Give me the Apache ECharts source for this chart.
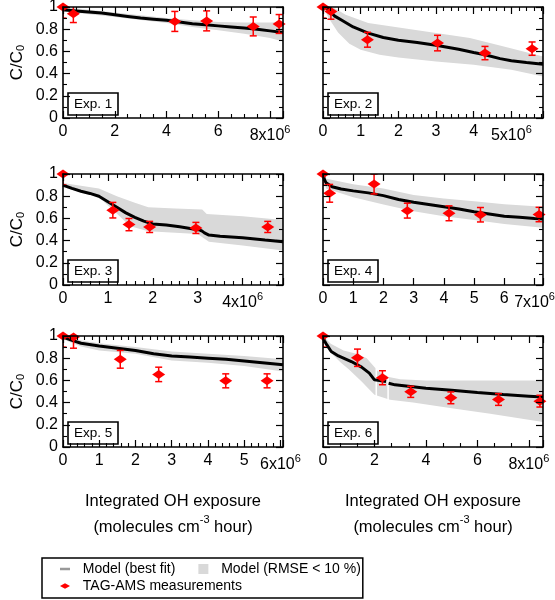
<!DOCTYPE html>
<html><head><meta charset="utf-8">
<script src="https://cdn.jsdelivr.net/npm/echarts@6/dist/echarts.min.js"></script>
<style>html,body{margin:0;padding:0;background:#fff}#c{width:555px;height:600px}</style>
</head><body><div id="c"></div>
<script>
const FONT = 'Liberation Sans, Arial, sans-serif';

// ---------- data (x in units of 10^6 molecules cm^-3 hour, y = C/C0) ----------
const expNames = ['Exp. 1', 'Exp. 2', 'Exp. 3', 'Exp. 4', 'Exp. 5', 'Exp. 6'];
const xTickValues = [[0,2,4,6,8],[0,1,2,3,4,5],[0,1,2,3,4],[0,1,2,3,4,5,6,7],[0,1,2,3,4,5,6],[0,2,4,6,8]];
const xExponent = '6';
const yTickLabels = ['0','0.2','0.4','0.6','0.8','1'];

const exp1Model = [[0,0.975],[0.5,0.965],[1,0.955],[1.5,0.945],[2,0.93],[2.5,0.915],[3,0.9],[3.5,0.89],[4,0.88],[4.5,0.865],[5,0.85],[5.5,0.84],[6,0.83],[6.5,0.82],[7,0.81],[7.5,0.8],[8,0.785],[8.5,0.77]];
const exp1Upper = [[0,1.0],[2,0.95],[4,0.9],[5,0.88],[6,0.865],[7,0.86],[8,0.86],[8.5,0.865]];
const exp1Lower = [[0,0.96],[2,0.91],[4,0.855],[5,0.82],[6,0.79],[7,0.76],[8,0.72],[8.5,0.69]];
const exp1Meas = [[0,1.0,0.1],[0.4,0.94,0.08],[4.32,0.87,0.09],[5.55,0.875,0.09],[7.35,0.825,0.085],[8.35,0.847,0.085]];

const exp2Model = [[0,1.0],[0.1,0.99],[0.2,0.96],[0.3,0.92],[0.5,0.88],[0.8,0.82],[1.2,0.765],[1.6,0.725],[2.0,0.70],[2.5,0.68],[3.0,0.655],[3.6,0.62],[4.0,0.59],[4.3,0.57],[4.7,0.535],[5.0,0.515],[5.4,0.5],[5.84,0.485]];
const exp2Upper = [[0,1.0],[0.3,0.99],[0.6,0.93],[1.2,0.856],[2.1,0.81],[3.0,0.765],[3.9,0.72],[4.8,0.645],[5.84,0.555]];
const exp2Lower = [[0,1.0],[0.15,0.9],[0.4,0.77],[0.7,0.67],[1.0,0.615],[1.5,0.57],[2.0,0.545],[3.0,0.51],[4.0,0.48],[5.0,0.435],[5.84,0.375]];
const exp2Meas = [[0,1.0,0.1],[0.21,0.96,0.07],[1.18,0.705,0.067],[3.04,0.675,0.07],[4.3,0.585,0.06],[5.55,0.625,0.06]];

const exp3Model = [[0,0.9],[0.2,0.87],[0.4,0.845],[0.6,0.825],[0.8,0.80],[1.0,0.75],[1.2,0.70],[1.4,0.65],[1.6,0.61],[1.8,0.575],[2.0,0.55],[2.3,0.54],[2.6,0.525],[2.9,0.505],[3.05,0.495],[3.1,0.485],[3.15,0.47],[3.25,0.45],[3.5,0.44],[4.0,0.425],[4.5,0.405],[4.9,0.39]];
const exp3Upper = [[0,0.92],[0.8,0.87],[1.2,0.80],[1.6,0.74],[1.9,0.70],[2.5,0.69],[3.1,0.68],[3.2,0.64],[4.0,0.62],[4.9,0.585]];
const exp3Lower = [[0,0.88],[0.8,0.79],[1.1,0.68],[1.5,0.53],[1.9,0.485],[3.0,0.46],[3.25,0.39],[4.0,0.355],[4.9,0.31]];
const exp3Meas = [[0,1.0,0.1],[1.11,0.674,0.07],[1.47,0.544,0.055],[1.93,0.523,0.05],[2.96,0.514,0.05],[4.56,0.523,0.05]];

const exp4Model = [[0,1.0],[0.05,0.95],[0.1,0.92],[0.3,0.885],[0.6,0.865],[1.0,0.848],[1.5,0.83],[2.0,0.805],[2.5,0.77],[3.0,0.745],[3.5,0.725],[4.0,0.705],[4.5,0.685],[5.0,0.66],[5.5,0.64],[6.0,0.62],[6.5,0.61],[7.0,0.6],[7.28,0.595]];
const exp4Upper = [[0,1.0],[0.08,0.96],[1,0.907],[2,0.87],[3,0.81],[4,0.78],[5,0.755],[6,0.727],[7.28,0.705]];
const exp4Lower = [[0,1.0],[0.1,0.87],[1,0.79],[2,0.725],[3,0.665],[4,0.62],[5,0.585],[6,0.55],[7.28,0.515]];
const exp4Meas = [[0,1.0,0.1],[0.22,0.826,0.08],[1.69,0.91,0.09],[2.79,0.67,0.067],[4.17,0.646,0.067],[5.21,0.633,0.065],[7.15,0.635,0.065]];

const exp5Model = [[0,0.99],[0.25,0.96],[0.5,0.935],[1.0,0.91],[1.5,0.89],[2.0,0.87],[2.5,0.84],[3.0,0.82],[3.5,0.81],[4.0,0.80],[4.5,0.79],[5.0,0.775],[5.5,0.76],[6.07,0.74]];
const exp5Upper = [[0,1.0],[0.5,0.96],[1,0.935],[2,0.9],[3,0.86],[4,0.84],[5,0.82],[6.07,0.79]];
const exp5Lower = [[0,0.97],[0.5,0.905],[1,0.87],[2,0.84],[3,0.78],[4,0.76],[5,0.73],[6.07,0.68]];
const exp5Meas = [[0,1.0,0.1],[0.29,0.99,0.1],[1.58,0.79,0.08],[2.64,0.654,0.065],[4.49,0.596,0.063],[5.63,0.596,0.063]];

const exp6Model = [[0,1.0],[0.05,0.96],[0.15,0.92],[0.32,0.86],[0.6,0.82],[1.1,0.77],[1.5,0.72],[1.8,0.665],[2.0,0.605],[2.2,0.6],[2.45,0.59],[2.5,null],[2.55,0.575],[2.8,0.56],[3.4,0.545],[4.0,0.53],[5.0,0.512],[6.0,0.49],[7.0,0.472],[8.0,0.458],[8.55,0.45]];
const exp6Upper = [[0,1.0],[0.3,0.93],[0.8,0.87],[1.3,0.84],[1.7,0.8],[2.04,0.71],[2.07,null],[2.1,0.69],[2.5,0.64],[2.53,null],[2.56,0.63],[3.0,0.61],[4.0,0.6],[6.0,0.6],[8.55,0.6]];
const exp6Lower = [[0,1.0],[0.1,0.93],[0.3,0.85],[0.7,0.76],[1.0,0.70],[1.5,0.59],[2.0,0.47],[2.6,0.425],[3.5,0.4],[5,0.35],[6.5,0.3],[8.55,0.225]];
const exp6Meas = [[0,1.0,0.1],[1.34,0.804,0.078],[2.31,0.624,0.063],[3.41,0.497,0.05],[4.97,0.443,0.053],[6.82,0.428,0.053],[8.43,0.413,0.053]];

const models = [exp1Model, exp2Model, exp3Model, exp4Model, exp5Model, exp6Model];
const uppers = [exp1Upper, exp2Upper, exp3Upper, exp4Upper, exp5Upper, exp6Upper];
const lowers = [exp1Lower, exp2Lower, exp3Lower, exp4Lower, exp5Lower, exp6Lower];
const meas = [exp1Meas, exp2Meas, exp3Meas, exp4Meas, exp5Meas, exp6Meas];

// ---------- layout / style ----------
const xMax = [8.5, 5.84, 4.9, 7.28, 6.07, 8.55];
const xInterval = [2, 1, 1, 1, 1, 2];
const xMinorSplit = [4, 5, 5, 0, 5, 3];
const colLeft = [63, 323];
const rowTop = [7, 174, 336];
const GW = 220, GH = 111;

const chart = echarts.init(document.getElementById('c'), null, {renderer: 'canvas'});

const grids = [], xAxes = [], yAxes = [], series = [], titles = [];
const lineC = {color: '#000', width: 1.6};

for (let i = 0; i < 6; i++) {
  const col = i % 2, row = Math.floor(i / 2);
  const L = colLeft[col], T = rowTop[row];
  grids.push({left: L, top: T, width: GW, height: GH, containLabel: false, outerBoundsMode: 'none'});
  const ticks = xTickValues[i];
  const last = ticks[ticks.length - 1];
  const xCommon = {
    type: 'value', gridIndex: i, min: 0, max: xMax[i], interval: xInterval[i], z: 10,
    axisLine: {show: true, onZero: false, lineStyle: lineC},
    axisTick: {show: true, inside: true, length: 7, lineStyle: {color: '#000', width: 1.2}},
    minorTick: {show: xMinorSplit[i] > 1, splitNumber: Math.max(xMinorSplit[i], 2), length: 4, lineStyle: {color: '#000', width: 1.1}},
    splitLine: {show: false}, minorSplitLine: {show: false}
  };
  const xb = Object.assign({}, xCommon, {
    position: 'bottom',
    axisLabel: {
      show: true, margin: 6, fontSize: 16, color: '#000', fontFamily: FONT,
      formatter: function (v) {
        if (Math.abs(v - last) < 1e-9) return '{m|' + last + 'x10}{s|' + xExponent + '}';
        for (const t of ticks) if (Math.abs(v - t) < 1e-9) return String(t);
        return '';
      },
      rich: {
        m: {fontSize: 16, color: '#000', fontFamily: FONT, padding: [4, 0, 0, 0]},
        s: {fontSize: 11, color: '#000', fontFamily: FONT, verticalAlign: 'top'}
      }
    }
  });
  if (row === 2) {
    Object.assign(xb, {
      name: 'Integrated OH exposure\n(molecules cm{sup|-3} hour)',
      nameLocation: 'middle', nameGap: 41, nameMoveOverlap: false,
      nameTextStyle: {fontSize: 16.5, color: '#000', fontFamily: FONT, lineHeight: 26,
        rich: {sup: {fontSize: 11, color: '#000', fontFamily: FONT, verticalAlign: 'top', lineHeight: 26}}}
    });
  }
  const xt = Object.assign({}, xCommon, {position: 'top', axisLabel: {show: false}});
  xAxes.push(xb, xt);

  const yCommon = {
    type: 'value', gridIndex: i, min: 0, max: 1, interval: 0.2, z: 10,
    axisLine: {show: true, onZero: false, lineStyle: lineC},
    axisTick: {show: true, inside: true, length: 7, lineStyle: {color: '#000', width: 1.2}},
    minorTick: {show: true, splitNumber: 2, length: 4, lineStyle: {color: '#000', width: 1.1}},
    splitLine: {show: false}, minorSplitLine: {show: false}
  };
  const yl = Object.assign({}, yCommon, {
    position: 'left',
    axisLabel: {show: col === 0, margin: 5, fontSize: 16, color: '#000', fontFamily: FONT,
      formatter: function (v) { return yTickLabels[Math.round(v / 0.2)] || ''; }}
  });
  if (col === 0) {
    Object.assign(yl, {
      name: 'C/C{sub|0}', nameLocation: 'middle', nameRotate: 90, nameGap: 37, nameMoveOverlap: false,
      nameTextStyle: {fontSize: 17, color: '#000', fontFamily: FONT,
        rich: {sub: {fontSize: 11, color: '#000', fontFamily: FONT, verticalAlign: 'bottom'}}}
    });
  }
  const yr = Object.assign({}, yCommon, {position: 'right', axisLabel: {show: false}});
  yAxes.push(yl, yr);

  const xi = 2 * i, yi = 2 * i;
  series.push({
    name: 'Model (RMSE < 10 %)', type: 'line', xAxisIndex: xi, yAxisIndex: yi, data: uppers[i],
    symbol: 'none', showSymbol: false, connectNulls: false, silent: true, clip: true, z: 2,
    itemStyle: {color: '#d9d9d9'}, lineStyle: {width: 0, opacity: 0},
    areaStyle: {color: '#d9d9d9', opacity: 1, origin: 'start'}
  });
  series.push({
    name: 'band-lower', type: 'line', xAxisIndex: xi, yAxisIndex: yi, data: lowers[i],
    symbol: 'none', showSymbol: false, silent: true, clip: true, z: 2,
    itemStyle: {color: '#ffffff'}, lineStyle: {width: 0, opacity: 0},
    areaStyle: {color: '#ffffff', opacity: 1, origin: 'start'}
  });
  series.push({
    name: 'Model (best fit)', type: 'line', xAxisIndex: xi, yAxisIndex: yi, data: models[i],
    symbol: 'none', showSymbol: false, connectNulls: false, silent: true, clip: true, z: 3,
    itemStyle: {color: '#000'}, lineStyle: {color: '#000', width: 3}
  });
  series.push({
    name: 'err', type: 'custom', xAxisIndex: xi, yAxisIndex: yi, data: meas[i], clip: true, z: 4, silent: true,
    encode: {x: 0, y: 1},
    renderItem: function (params, api) {
      const x = api.value(0), y = api.value(1), e = api.value(2);
      const hi = api.coord([x, y + e]), lo = api.coord([x, y - e]);
      const cw = 3.5, st = {stroke: '#ff0000', lineWidth: 1.5};
      return {type: 'group', children: [
        {type: 'line', shape: {x1: hi[0], y1: hi[1], x2: lo[0], y2: lo[1]}, style: st},
        {type: 'line', shape: {x1: hi[0] - cw, y1: hi[1], x2: hi[0] + cw, y2: hi[1]}, style: st},
        {type: 'line', shape: {x1: lo[0] - cw, y1: lo[1], x2: lo[0] + cw, y2: lo[1]}, style: st}
      ]};
    }
  });
  series.push({
    name: 'TAG-AMS measurements', type: 'scatter', xAxisIndex: xi, yAxisIndex: yi, data: meas[i],
    encode: {x: 0, y: 1}, symbol: 'diamond', symbolSize: [13, 9], clip: false, z: 5, silent: true,
    itemStyle: {color: '#ff0000', opacity: 1}
  });

  titles.push({
    text: expNames[i], left: L + 5, top: T + GH - 3 - 22,
    padding: [4, 6, 4, 6], borderColor: '#000', borderWidth: 1.6,
    textStyle: {fontSize: 13.5, fontWeight: 'normal', color: '#000', fontFamily: FONT}
  });
}

const legendText = {fontSize: 14, color: '#000', fontFamily: FONT};
const option = {
  animation: false,
  backgroundColor: '#fff',
  title: titles,
  grid: grids,
  xAxis: xAxes,
  yAxis: yAxes,
  legend: [
    {
      left: 42, top: 558, orient: 'horizontal', padding: [4, 2, 22, 18], itemGap: 23,
      itemWidth: 10, itemHeight: 10, borderColor: '#000', borderWidth: 1.5, selectedMode: false,
      textStyle: legendText, formatter: function (n) { return '\u00a0\u00a0' + n; },
      data: [
        {name: 'Model (best fit)', icon: 'path://M0,0h8v2h-8z', itemStyle: {color: '#999999'}},
        {name: 'Model (RMSE < 10 %)', icon: 'path://M0,0h10v10h-10z', itemStyle: {color: '#d9d9d9'}}
      ]
    },
    {
      left: 60, top: 579, orient: 'horizontal', padding: 0, itemWidth: 10, itemHeight: 10, selectedMode: false,
      textStyle: legendText, formatter: function (n) { return '\u00a0\u00a0' + n; },
      data: [{name: 'TAG-AMS measurements', icon: 'path://M0,4L7,0L14,4L7,8Z', itemStyle: {color: '#ff0000'}}]
    }
  ],
  series: series
};
chart.setOption(option);
</script></body></html>
